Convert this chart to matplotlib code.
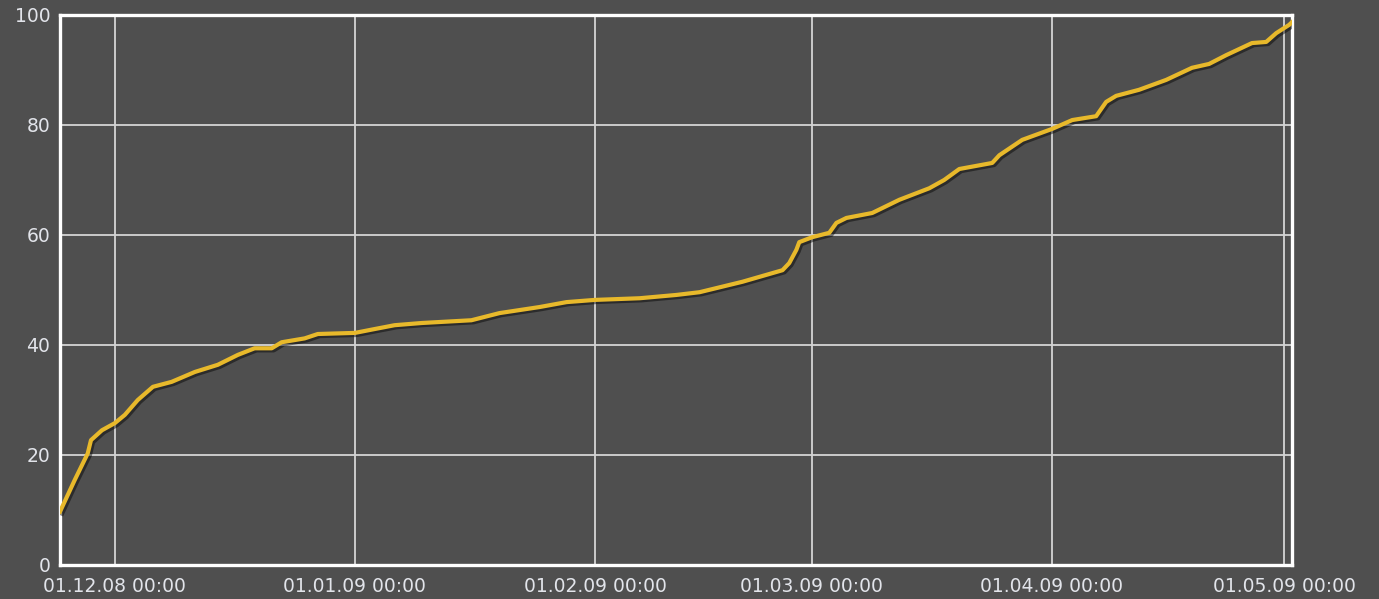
import pandas as pd
import matplotlib
matplotlib.use("Agg")
import matplotlib.pyplot as plt
import matplotlib.dates as mdates
import matplotlib.patheffects as pe

# cumulative values, one row per visible bend
times = [
    "2008-11-23 22:00", "2008-11-25 20:00", "2008-11-27 12:00", "2008-11-27 22:00",
    "2008-11-29 08:00", "2008-12-01 00:00", "2008-12-02 07:00", "2008-12-03 23:00",
    "2008-12-05 22:00", "2008-12-08 08:00", "2008-12-11 08:00", "2008-12-14 07:00",
    "2008-12-16 21:00", "2008-12-19 01:00", "2008-12-21 06:00", "2008-12-22 13:00",
    "2008-12-25 12:00", "2008-12-27 05:00", "2009-01-01 00:00", "2009-01-03 13:00",
    "2009-01-06 03:00", "2009-01-09 15:00", "2009-01-16 01:00", "2009-01-19 16:00",
    "2009-01-24 20:00", "2009-01-28 08:00", "2009-02-01 00:00", "2009-02-06 18:00",
    "2009-02-11 12:00", "2009-02-14 12:00", "2009-02-20 01:00", "2009-02-25 05:00",
    "2009-02-26 02:00", "2009-02-27 00:00", "2009-02-27 09:00", "2009-03-01 01:00",
    "2009-03-03 06:00", "2009-03-04 04:00", "2009-03-05 11:00", "2009-03-08 19:00",
    "2009-03-12 07:00", "2009-03-16 04:00", "2009-03-18 02:00", "2009-03-20 01:00",
    "2009-03-24 07:00", "2009-03-25 05:00", "2009-03-28 04:00", "2009-04-01 01:00",
    "2009-04-03 15:00", "2009-04-06 17:00", "2009-04-08 00:00", "2009-04-09 07:00",
    "2009-04-12 06:00", "2009-04-15 18:00", "2009-04-19 02:00", "2009-04-21 07:00",
    "2009-04-23 12:00", "2009-04-26 20:00", "2009-04-28 16:00", "2009-04-29 23:00",
    "2009-05-01 15:00", "2009-05-02 00:00",
]
values = [
    9.7, 15.5, 20.3, 22.7, 24.5, 25.8, 27.3, 30.0, 32.4, 33.3, 35.1, 36.4,
    38.2, 39.4, 39.4, 40.5, 41.2, 42.0, 42.2, 42.9, 43.6, 44.0, 44.5, 45.8,
    46.9, 47.8, 48.2, 48.5, 49.1, 49.6, 51.5, 53.6, 54.9, 57.3, 58.7, 59.6,
    60.4, 62.2, 63.1, 64.0, 66.4, 68.5, 70.0, 72.0, 73.1, 74.5, 77.3, 79.3,
    80.9, 81.6, 84.2, 85.3, 86.4, 88.2, 90.4, 91.1, 92.7, 94.9, 95.1, 96.7,
    98.2, 98.7,
]
x_ticks = ["2008-12-01", "2009-01-01", "2009-02-01", "2009-03-01", "2009-04-01", "2009-05-01"]
y_ticks = [0, 20, 40, 60, 80, 100]

bg = "#4f4f4f"
txt = "#e2e4ea"

t = pd.to_datetime(times)

fig = plt.figure(figsize=(13.79, 5.99), dpi=100, facecolor=bg)
ax = fig.add_axes([60 / 1379, 34 / 599, 1232 / 1379, 550 / 599])
ax.set_facecolor(bg)

ax.plot(t, values, color="#e8b92b", lw=3.0, solid_joinstyle="round", zorder=3,
        path_effects=[pe.SimpleLineShadow(offset=(1.5, -1.5), shadow_color="black", alpha=0.45),
                      pe.Normal()])

ax.set_xlim(t[0], t[-1])
ax.set_ylim(0, 100)
ax.set_xticks(pd.to_datetime(x_ticks))
ax.xaxis.set_major_formatter(mdates.DateFormatter("%d.%m.%y %H:%M"))
ax.set_yticks(y_ticks)

ax.grid(True, color="#d4d4d4", lw=1.3)
ax.set_axisbelow(True)
for s in ax.spines.values():
    s.set_color("white")
    s.set_linewidth(2.4)

ax.tick_params(length=0, colors=txt, labelsize=13.5)
ax.tick_params(axis="x", pad=9)
ax.tick_params(axis="y", pad=7)

fig.savefig("out.png", dpi=100, facecolor=bg)
